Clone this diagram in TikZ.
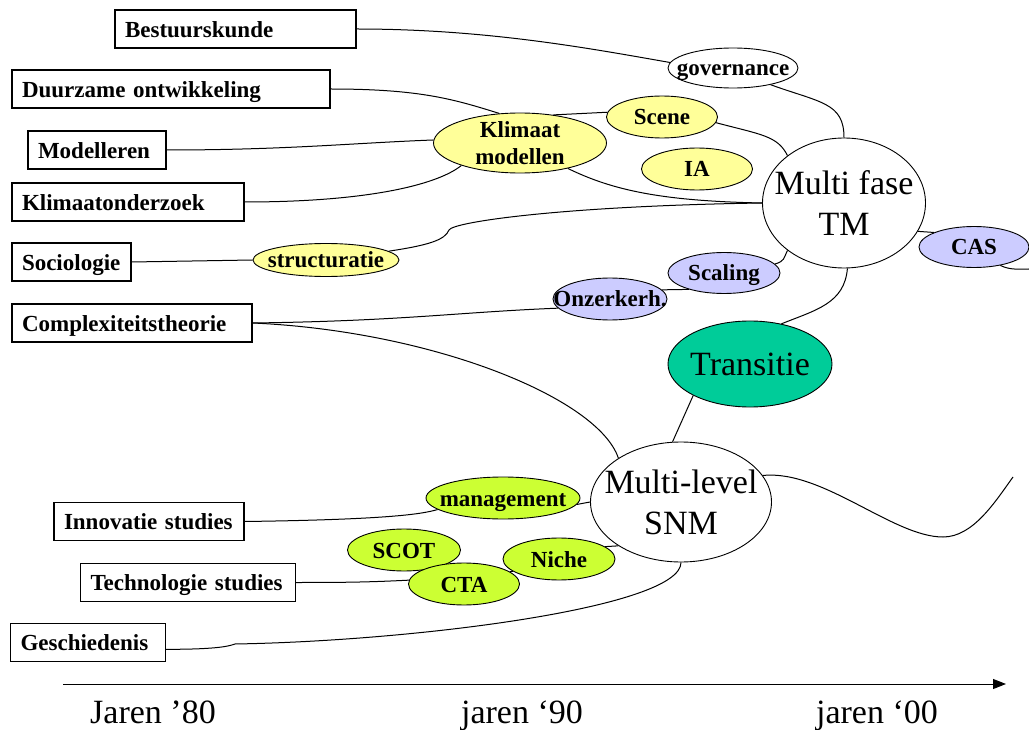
\documentclass[tikz,border=0pt]{standalone}
\usepackage{fontspec}
\setmainfont{Liberation Serif}
\usepackage{tikz}
\usetikzlibrary{arrows.meta}
\usetikzlibrary{shapes.geometric}

\definecolor{geel}{HTML}{FFFF99}
\definecolor{lila}{HTML}{CCCCFF}
\definecolor{limoen}{HTML}{CCFF33}
\definecolor{turkoois}{HTML}{00CC99}

\tikzset{
  lijn/.style={line width=1pt},
  vak/.style={draw,rectangle,line width=1.2pt,minimum height=38pt,inner xsep=10pt,inner ysep=0pt,align=left,
    text height=18pt,text depth=1.4pt,font=\bfseries\fontsize{23}{27}\selectfont},
  bol/.style={draw,ellipse,line width=0.9pt,inner sep=0pt,fill=white},
  tekst/.style={inner sep=0pt,align=center,font=\bfseries\fontsize{23}{27}\selectfont},
  woord/.style={tekst,text height=16pt,text depth=0pt},
  groot/.style={inner sep=0pt,align=center,font=\fontsize{34}{41}\selectfont}
}

\begin{document}
\begin{tikzpicture}[x=1pt,y=-1pt]

  \useasboundingbox (0,0) rectangle (1029,730);

  \node [vak,text width=221pt] (bestuur)      at (235.5,29)  {Bestuurskunde};
  \node [vak,text width=298pt] (duurzaam)     at (171,89)    {Duurzame ontwikkeling};
  \node [vak,text width=118pt] (modelleren)   at (97,150)    {Modelleren};
  \node [vak,text width=212pt] (klimaat)      at (128,202)   {Klimaatonderzoek};
  \node [vak,text width=99pt]  (sociologie)   at (71.5,262)  {Sociologie};
  \node [vak,text width=220pt] (complex)      at (132,323)   {Complexiteitstheorie};
  \node [vak,text width=170pt] (innovatie)    at (149,521.5) {Innovatie studies};
  \node [vak,text width=195pt] (technologie)  at (188,582.5) {Technologie studies};
  \node [vak,text width=135pt] (geschiedenis) at (88,642.5)  {Geschiedenis};

  \node [bol,minimum width=130pt,minimum height=40pt,label={[woord]center:governance}] (governance) at (733,68) {};
  \node [bol,fill=geel,minimum width=173pt,minimum height=60pt,label={[tekst]center:Klimaat\\modellen}] (kmod) at (520,143) {};
  \node [bol,fill=geel,minimum width=111pt,minimum height=42pt,label={[woord]center:Scene}] (scene) at (662,117) {};
  \node [bol,fill=geel,minimum width=111pt,minimum height=42pt,label={[woord]center:IA}] (ia) at (697,169) {};
  \node [bol,fill=geel,minimum width=146pt,minimum height=33pt,label={[woord]center:structuratie}] (struct) at (326,260) {};
  \node [bol,minimum width=163pt,minimum height=130pt,label={[groot]center:Multi fase\\TM}] (tm) at (844,203) {};
  \node [bol,fill=lila,minimum width=110pt,minimum height=41pt,label={[woord]center:CAS}] (cas) at (974,247) {};
  \node [bol,fill=lila,minimum width=112pt,minimum height=41pt,label={[woord]center:Scaling}] (scaling) at (724,273) {};
  \node [bol,fill=lila,minimum width=114pt,minimum height=42pt,label={[woord]center:Onzerkerh.}] (onzeker) at (610,299) {};
  \node [bol,fill=turkoois,minimum width=164pt,minimum height=86pt,label={[groot]center:Transitie}] (transitie) at (750,364) {};
  \node [bol,minimum width=181pt,minimum height=120pt,label={[groot]center:Multi-level\\SNM}] (snm) at (681,502) {};
  \node [bol,fill=limoen,minimum width=154pt,minimum height=42pt,label={[woord]center:management}] (management) at (503,498) {};
  \node [bol,fill=limoen,minimum width=113pt,minimum height=42pt,label={[woord]center:SCOT}] (scot) at (404,550) {};
  \node [bol,fill=limoen,minimum width=111pt,minimum height=42pt,label={[woord]center:CTA}] (cta) at (464,584) {};
  \node [bol,fill=limoen,minimum width=112pt,minimum height=42pt,label={[woord]center:Niche}] (niche) at (559,559) {};

  \coordinate (sknik) at (449,230);
  \coordinate (gknik) at (235,644);
  \coordinate (casuit) at (1029,269);
  \coordinate (golfdal) at (943,537);
  \coordinate (golfeind) at (1013,477);
  \coordinate (asbegin) at (63,684);
  \coordinate (aseind) at (1006,684);

  \path [draw,lijn]
    (kmod.40)          edge (scene.175)
    (sociologie.east)  edge (struct.west)
    (onzeker.10)       edge (scaling.205)
    (transitie.209)    edge (snm.98)
    (tm.-21)           edge (cas.160)
    (management.-5)    edge (snm.west)
    (cta.15)           edge (niche.195)
    (niche.15)         edge (snm.215);

  \draw [lijn] (bestuur.east) .. controls +(130,0) and +(-80,-14) .. (governance.175);
  \draw [lijn] (governance.-24) .. controls +(50,18) and +(0,-35) .. (tm.north);
  \draw [lijn] (duurzaam.east) .. controls +(90,0) and +(-45,-14) .. (kmod.125);
  \draw [lijn] (scene.-6) .. controls +(45,12) and +(-10,-20) .. (tm.140);
  \draw [lijn] (modelleren.east) .. controls +(120,0) and +(-80,3) .. (kmod.178);
  \draw [lijn] (klimaat.east) .. controls +(120,0) and +(-25,20) .. (kmod.201);
  \draw [lijn] (kmod.-28) .. controls +(45,22) and +(-100,-2) .. (tm.west);
  \draw [lijn] (struct.8) .. controls +(40,-6) and +(-4,10) .. (sknik)
    .. controls +(4,-8) and +(-200,3) .. (tm.west);
  \draw [lijn] (complex.east) .. controls +(150,-2) and +(-100,4) .. (onzeker.190);
  \draw [lijn] (scaling.10) .. controls +(10,-3) and +(-4,8) .. (tm.220);
  \draw [lijn] (complex.east) .. controls +(180,8) and +(-20,-60) .. (snm.145);
  \draw [lijn] (tm.-87) .. controls +(-3,35) and +(35,-14) .. (transitie.52);
  \draw [lijn] (cas.-35) .. controls +(10,5) and +(-8,0) .. (casuit);
  \draw [lijn] (snm.18) .. controls +(60,-6) and +(-50,0) .. (golfdal)
    .. controls +(30,0) and +(-18,25) .. (golfeind);
  \draw [lijn] (innovatie.east) .. controls +(150,-2) and +(-14,4) .. (management.190);
  \draw [lijn] (technologie.east) .. controls +(50,0) and +(-40,2) .. (cta.176);
  \draw [lijn] (geschiedenis.-5) .. controls +(45,0) and +(-8,3) .. (gknik)
    .. controls +(180,-3) and +(0,45) .. (snm.south);

  \draw [lijn,-{Triangle[length=13pt,width=10pt]}] (asbegin) -- (aseind);

  \node [groot,anchor=base] (jaren80) at (153,723) {Jaren ’80};
  \node [groot,anchor=base] (jaren90) at (522,723) {jaren ‘90};
  \node [groot,anchor=base] (jaren00) at (877,723) {jaren ‘00};

\end{tikzpicture}
\end{document}
